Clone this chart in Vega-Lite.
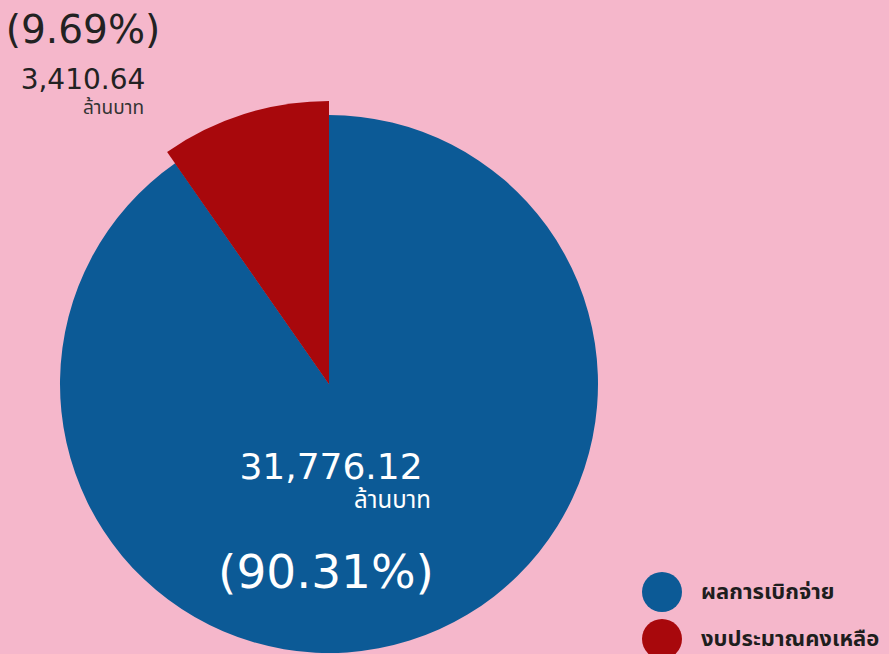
{
  "$schema": "https://vega.github.io/schema/vega-lite/v6.json",
  "width": 658,
  "height": 768,
  "autosize": {"type": "none"},
  "padding": {"left": 0, "top": 0, "right": 231, "bottom": 0},
  "background": "#f5b7cb",
  "config": {"view": {"stroke": null}},
  "data": {"values": [
    {"label": "ผลการเบิกจ่าย", "value": 31776.12, "amount": "31,776.12", "pct": "(90.31%)", "unit": "ล้านบาท"},
    {"label": "งบประมาณคงเหลือ", "value": 3410.64, "amount": "3,410.64", "pct": "(9.69%)", "unit": "ล้านบาท"}
  ]},
  "layer": [
    {
      "mark": {"type": "arc", "radius": 269},
      "encoding": {
        "theta": {"field": "value", "type": "quantitative", "stack": true},
        "order": {"field": "value", "sort": "descending"},
        "color": {
          "field": "label", "type": "nominal",
          "scale": {"domain": ["ผลการเบิกจ่าย", "งบประมาณคงเหลือ"], "range": ["#0c5a96", "#a8080c"]},
          "legend": {
            "orient": "none", "legendX": 642, "legendY": 572, "title": null,
            "symbolType": "circle", "symbolSize": 1600, "symbolOpacity": 1, "symbolStrokeWidth": 0,
            "labelFontSize": 22, "labelFontWeight": "bold", "labelColor": "#1e1e1e",
            "labelFont": "Noto Sans Thai, Noto Sans, sans-serif",
            "rowPadding": 7, "labelOffset": 19, "labelLimit": 300
          }
        }
      }
    },
    {
      "mark": {"type": "arc", "radius": 283},
      "encoding": {
        "theta": {"field": "value", "type": "quantitative", "stack": true},
        "order": {"field": "value", "sort": "descending"},
        "color": {"field": "label", "type": "nominal"},
        "opacity": {"condition": {"test": "datum.label === 'งบประมาณคงเหลือ'", "value": 1}, "value": 0}
      }
    },
    {
      "transform": [{"filter": "datum.label === 'งบประมาณคงเหลือ'"}],
      "mark": {"type": "text", "x": 83, "y": 43, "fontSize": 39, "font": "DejaVu Sans", "color": "#222222", "align": "center", "baseline": "alphabetic"},
      "encoding": {"text": {"field": "pct"}}
    },
    {
      "transform": [{"filter": "datum.label === 'งบประมาณคงเหลือ'"}],
      "mark": {"type": "text", "x": 83, "y": 89, "fontSize": 28, "font": "DejaVu Sans", "color": "#222222", "align": "center", "baseline": "alphabetic"},
      "encoding": {"text": {"field": "amount"}}
    },
    {
      "transform": [{"filter": "datum.label === 'งบประมาณคงเหลือ'"}],
      "mark": {"type": "text", "x": 144, "y": 114, "fontSize": 19, "font": "Noto Sans Thai, Noto Sans, sans-serif", "color": "#333333", "align": "right", "baseline": "alphabetic"},
      "encoding": {"text": {"field": "unit"}}
    },
    {
      "transform": [{"filter": "datum.label === 'ผลการเบิกจ่าย'"}],
      "mark": {"type": "text", "x": 331, "y": 479, "fontSize": 36, "font": "DejaVu Sans", "color": "#ffffff", "align": "center", "baseline": "alphabetic"},
      "encoding": {"text": {"field": "amount"}}
    },
    {
      "transform": [{"filter": "datum.label === 'ผลการเบิกจ่าย'"}],
      "mark": {"type": "text", "x": 431, "y": 508, "fontSize": 24, "font": "Noto Sans Thai, Noto Sans, sans-serif", "color": "#ffffff", "align": "right", "baseline": "alphabetic"},
      "encoding": {"text": {"field": "unit"}}
    },
    {
      "transform": [{"filter": "datum.label === 'ผลการเบิกจ่าย'"}],
      "mark": {"type": "text", "x": 326, "y": 588, "fontSize": 47, "font": "DejaVu Sans", "color": "#ffffff", "align": "center", "baseline": "alphabetic"},
      "encoding": {"text": {"field": "pct"}}
    }
  ]
}
